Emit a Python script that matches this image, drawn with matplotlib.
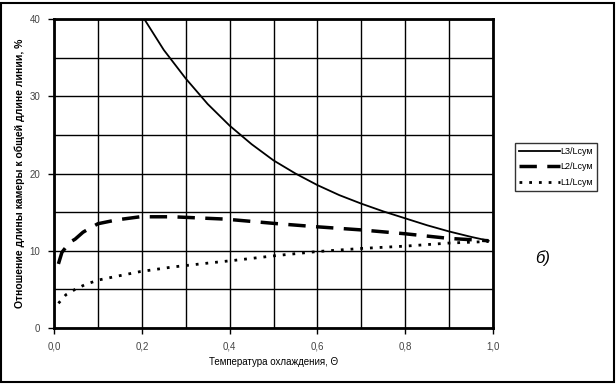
import matplotlib.pyplot as plt
import numpy as np
from matplotlib.patches import Rectangle

plt.rcParams['font.family'] = ['Liberation Sans', 'DejaVu Sans']

# values
theta_l3 = [0.2, 0.25, 0.3, 0.35, 0.4, 0.45, 0.5, 0.55, 0.6, 0.65, 0.7, 0.75, 0.8, 0.85, 0.9, 0.95, 0.99]
l3 = [40.5, 36.0, 32.3, 29.0, 26.2, 23.8, 21.7, 20.0, 18.5, 17.2, 16.1, 15.1, 14.2, 13.3, 12.5, 11.8, 11.3]

theta_l2 = [0.01, 0.018, 0.036, 0.048, 0.066, 0.078, 0.1, 0.143, 0.196, 0.27, 0.35, 0.39, 0.51, 0.6, 0.7, 0.8, 0.9, 0.99]
l2 = [8.3, 9.8, 11.1, 11.5, 12.4, 12.8, 13.5, 14.0, 14.4, 14.4, 14.2, 14.1, 13.5, 13.1, 12.7, 12.2, 11.6, 11.3]

theta_l1 = [0.01, 0.027, 0.048, 0.07, 0.1, 0.143, 0.196, 0.27, 0.35, 0.417, 0.51, 0.6, 0.7, 0.8, 0.9, 0.99]
l1 = [3.2, 4.3, 5.0, 5.6, 6.2, 6.7, 7.3, 7.9, 8.4, 8.8, 9.4, 9.9, 10.3, 10.6, 11.0, 11.2]

fig = plt.figure(figsize=(6.16, 3.85), dpi=100)
ax = fig.add_axes([0.0877, 0.148, 0.7126, 0.8026])

ax.plot(theta_l3, l3, color='black', lw=1.3, label='L3/Lсум')
ax.plot(theta_l2, l2, color='black', lw=2.5, dashes=(5, 3), label='L2/Lсум')
ax.plot(theta_l1, l1, color='black', lw=2.0, dashes=(1, 2.5), label='L1/Lсум')

ax.set_xlim(0, 1.0)
ax.set_ylim(0, 40)
ax.set_xticks(np.arange(0, 1.01, 0.2))
ax.set_xticklabels(['0,0', '0,2', '0,4', '0,6', '0,8', '1,0'])
ax.set_xticks(np.arange(0, 1.01, 0.1), minor=True)
ax.set_yticks([0, 10, 20, 30, 40])
ax.set_yticks(np.arange(0, 41, 5), minor=True)
ax.grid(True, which='both', color='black', lw=1.0)
ax.tick_params(which='major', direction='out', length=4, width=1, labelsize=7,
               labelcolor='#444444', pad=6)
ax.tick_params(which='minor', length=0)
for s in ax.spines.values():
    s.set_linewidth(2)

ax.set_xlabel('Температура охлаждения, Θ', fontsize=7, labelpad=4)
ax.yaxis.set_label_coords(-0.066, 0.5)
ax.set_ylabel('Отношение длины камеры к общей длине линии, %', fontsize=7.5,
              fontweight='bold')

leg = ax.legend(loc='upper left', bbox_to_anchor=(1.05, 0.6), fontsize=6.5,
                frameon=True, fancybox=False, edgecolor='black', handlelength=4.5,
                borderpad=0.45, labelspacing=0.75, handletextpad=0.1, borderaxespad=0)
leg.get_frame().set_linewidth(1)

fig.text(0.88, 0.33, 'б)', fontsize=12, style='italic', ha='center', va='center')

fig.patches.append(Rectangle((0.002, 0.008), 0.995, 0.984, transform=fig.transFigure,
                             fill=False, edgecolor='black', lw=1.5))

fig.savefig('out.png', dpi=100)
